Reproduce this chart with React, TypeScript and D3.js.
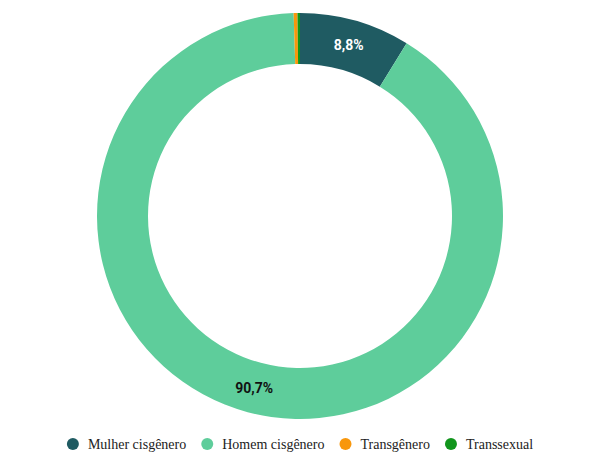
import React, { useEffect, useRef } from "react";
import * as d3 from "d3";

const categories = ["Mulher cisgênero", "Homem cisgênero", "Transgênero", "Transsexual"];
const values = [8.8, 90.7, 0.3, 0.2];
const colors = ["#1f5b62", "#5ecd9b", "#f8970c", "#11951c"];
const labelColors = ["#ffffff", "#111111", "#111111", "#111111"];

const W = 606;
const H = 467;

export default function App() {
  const ref = useRef<SVGSVGElement>(null);

  useEffect(() => {
    const svg = d3.select(ref.current);
    svg.selectAll("*").remove();
    const cx = 300, cy = 216, outerR = 203, innerR = 152;
    const data = categories.map((c, i) => ({ c, v: values[i], i }));
    const pie = d3.pie<any>().value((d) => d.v).sort(null);
    const arcs = pie(data);
    const arc = d3.arc<any>().innerRadius(innerR).outerRadius(outerR);
    const labelArc = d3.arc<any>().innerRadius(178).outerRadius(178);
    const g = svg.append("g").attr("transform", `translate(${cx},${cy})`);
    g.selectAll("path").data(arcs).enter().append("path")
      .attr("d", arc as any)
      .attr("fill", (d: any) => colors[d.data.i]);
    g.selectAll("text").data(arcs.filter((d: any) => d.data.v >= 5)).enter().append("text")
      .attr("transform", (d: any) => `translate(${labelArc.centroid(d)})`)
      .attr("text-anchor", "middle")
      .attr("dy", "0.35em")
      .attr("font-family", "Roboto, sans-serif")
      .attr("font-weight", "bold")
      .attr("font-size", 14)
      .attr("fill", (d: any) => labelColors[d.data.i])
      .text((d: any) => d3.format(".1f")(d.data.v).replace(".", ",") + "%");

    const leg = svg.append("g");
    const items = leg.selectAll("g").data(data).enter().append("g");
    items.append("circle").attr("r", 6).attr("cy", 0).attr("fill", (d) => colors[d.i]);
    const texts = items.append("text")
      .attr("x", 15)
      .attr("dy", "0.35em")
      .attr("font-family", "'Liberation Serif', serif")
      .attr("font-size", 14)
      .attr("fill", "#222")
      .text((d) => d.c);
    const widths: number[] = [];
    texts.each(function () { widths.push((this as SVGTextElement).getComputedTextLength()); });
    const gap = 21;
    const itemW = widths.map((w) => 15 + w);
    const total = 6 + d3.sum(itemW) + gap * (itemW.length - 1);
    let x = (W - total) / 2 - 3 + 6;
    items.attr("transform", (_d, i) => {
      const t = `translate(${x},444)`;
      x += itemW[i] + gap;
      return t;
    });
  }, []);

  return <svg ref={ref} width={W} height={H} style={{ display: "block", position: "absolute", left: 0, top: 0 }} />;
}
